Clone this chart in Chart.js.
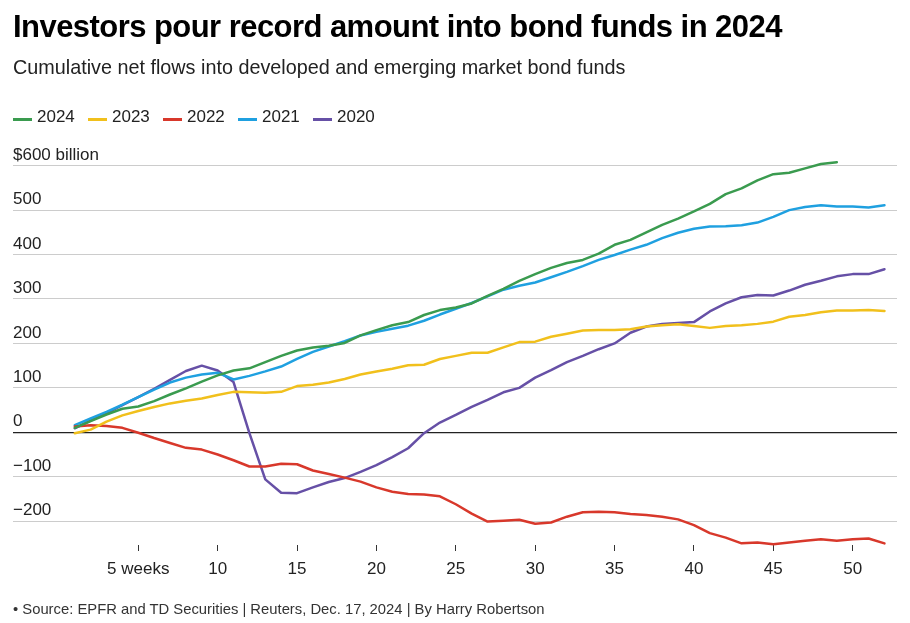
<!DOCTYPE html>
<html>
<head>
<meta charset="utf-8">
<script src="https://cdn.jsdelivr.net/npm/chart.js@4.4.1/dist/chart.umd.min.js"></script>
<style>
  html, body { margin: 0; padding: 0; background: #fff; }
  #wrap { position: relative; width: 910px; height: 623px; overflow: hidden; font-family: "Liberation Sans", Arial, Helvetica, sans-serif; }
  #c { position: absolute; left: 0; top: 0; }
  .t { position: absolute; white-space: nowrap; }
  #title { left: 13px; top: 10.5px; font-size: 31px; line-height: 31px; font-weight: bold; letter-spacing: -0.55px; color: #000; }
  #subtitle { left: 13px; top: 57.5px; font-size: 19.8px; line-height: 19.8px; color: #222; }
  #footer { left: 13px; top: 602px; font-size: 14.8px; line-height: 14.8px; color: #333; }
  .sw { position: absolute; width: 19px; height: 3px; top: 117.5px; }
  .lt { position: absolute; top: 107.6px; font-size: 17px; line-height: 17px; color: #222; }
</style>
</head>
<body>
<div id="wrap">
  <canvas id="c" width="910" height="623"></canvas>
  <div class="t" id="title">Investors pour record amount into bond funds in 2024</div>
  <div class="t" id="subtitle">Cumulative net flows into developed and emerging market bond funds</div>
  <div id="legend"></div>
  <div class="t" id="footer">• Source: EPFR and TD Securities | Reuters, Dec. 17, 2024 | By Harry Robertson</div>
</div>
<script>
const weeks = [1,2,3,4,5,6,7,8,9,10,11,12,13,14,15,16,17,18,19,20,21,22,23,24,25,26,27,28,29,30,31,32,33,34,35,36,37,38,39,40,41,42,43,44,45,46,47,48,49,50,51,52];
const xTickValues = [5,10,15,20,25,30,35,40,45,50];
const yTickValues = [-200,-100,0,100,200,300,400,500,600];
const seriesNames = ["2024","2023","2022","2021","2020"];
const seriesColors = ["#3a9b4f","#f1c01c","#d8382b","#1fa0e0","#6650a6"];

const flows2024 = [10,25,40,53,58,70,85,99,114,128,139,144,158,172,184,191,195,201,218,230,241,248,264,275,281,290,307,323,341,356,370,381,388,402,422,433,450,467,481,497,514,536,549,567,581,584,594,604,608];
const flows2023 = [-2,6,24,38,48,57,65,71,76,84,91,90,89,91,104,107,112,120,130,137,143,151,152,165,172,179,179,191,203,204,215,222,229,230,230,232,238,241,243,239,235,239,241,244,249,260,264,270,274,274,275,273];
const flows2022 = [13,16,14,10,-1,-13,-24,-35,-39,-50,-63,-77,-77,-71,-72,-86,-94,-102,-111,-124,-134,-139,-140,-144,-162,-183,-201,-199,-197,-206,-203,-190,-180,-179,-180,-184,-186,-190,-196,-209,-227,-237,-250,-248,-252,-248,-244,-241,-244,-241,-239,-250];
const flows2021 = [16,31,46,62,79,96,112,123,130,134,119,127,137,148,165,181,193,205,218,226,233,240,251,265,278,291,306,321,330,337,349,361,374,388,399,411,422,437,449,458,463,464,466,472,485,500,507,511,508,508,506,511];
const flows2020 = [9,26,43,61,79,98,118,138,150,139,113,-2,-106,-136,-137,-124,-112,-103,-89,-74,-56,-36,-2,22,39,57,73,90,100,123,140,158,172,187,200,224,238,244,246,248,272,290,304,309,308,319,332,341,351,356,356,367];

const seriesValues = [flows2024, flows2023, flows2022, flows2021, flows2020];

// Legend (HTML text)
const legend = document.getElementById('legend');
seriesNames.forEach((name, i) => {
  const left = 13 + i * 75;
  const sw = document.createElement('div');
  sw.className = 'sw';
  sw.style.left = left + 'px';
  sw.style.background = seriesColors[i];
  legend.appendChild(sw);
  const tx = document.createElement('div');
  tx.className = 't lt';
  tx.style.left = (left + 24) + 'px';
  tx.textContent = name;
  legend.appendChild(tx);
});

const datasets = seriesNames.map((name, i) => ({
  label: name,
  data: seriesValues[i].map((v, j) => ({ x: weeks[j], y: v })),
  borderColor: seriesColors[i],
  backgroundColor: seriesColors[i],
  borderWidth: 2.5,
  pointRadius: 0,
  tension: 0,
  clip: false,
  borderJoinStyle: 'round',
  borderCapStyle: 'round'
}));

const FONT = "'Liberation Sans', Arial, Helvetica, sans-serif";

new Chart(document.getElementById('c'), {
  type: 'line',
  data: { datasets },
  options: {
    responsive: false,
    animation: false,
    devicePixelRatio: 1,
    layout: { padding: { left: 13, right: 13, top: 161, bottom: 35.6 } },
    plugins: { legend: { display: false }, tooltip: { enabled: false }, title: { display: false } },
    scales: {
      x: {
        type: 'linear',
        min: -2.89,
        max: 52.79,
        afterBuildTicks: (s) => { s.ticks = xTickValues.map(v => ({ value: v })); },
        ticks: {
          autoSkip: false,
          maxRotation: 0,
          padding: 8,
          color: '#222',
          font: { family: FONT, size: 17 },
          callback: (v) => v === 5 ? '5 weeks' : String(v)
        },
        grid: { drawOnChartArea: false, drawTicks: true, tickLength: 6, color: '#333', lineWidth: 1 },
        border: { display: false }
      },
      y: {
        type: 'linear',
        min: -253.7,
        max: 610.6,
        afterBuildTicks: (s) => { s.ticks = yTickValues.map(v => ({ value: v })); },
        ticks: {
          mirror: true,
          padding: 0,
          labelOffset: -10.5,
          autoSkip: false,
          color: '#222',
          font: { family: FONT, size: 17 },
          callback: (v) => v === 600 ? '$600 billion' : (v < 0 ? '\u2212' + Math.abs(v) : String(v))
        },
        grid: {
          drawTicks: false,
          color: (ctx) => (ctx.tick && ctx.tick.value === 0) ? '#222' : '#cccccc',
          lineWidth: (ctx) => (ctx.tick && ctx.tick.value === 0) ? 1.2 : 1
        },
        border: { display: false }
      }
    }
  }
});
</script>
</body>
</html>
